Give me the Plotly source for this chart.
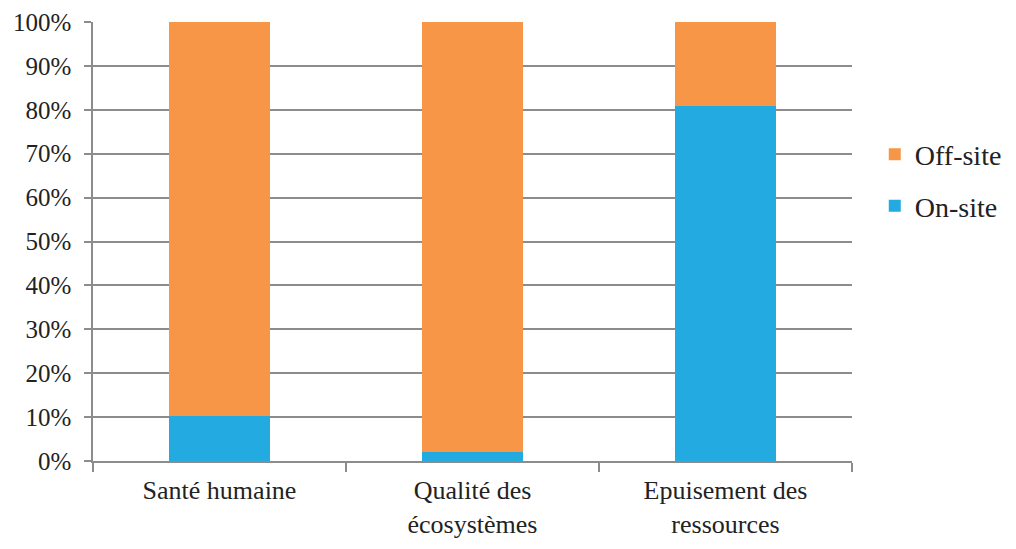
import plotly.graph_objects as go

categories = ["Santé humaine", "Qualité des<br>écosystèmes", "Epuisement des<br>ressources"]
on_site = [10.3, 2.1, 80.8]
off_site = [89.7, 97.9, 19.2]
tick_vals = list(range(0, 101, 10))
tick_text = [f"{v}%" for v in tick_vals]

ORANGE = "#F79646"
BLUE = "#22AAE1"
GRID = "#8C8C8C"
SERIF = "Liberation Serif, Times New Roman, DejaVu Serif, serif"

fig = go.Figure()
fig.add_trace(go.Bar(name="On-site", x=categories, y=on_site, legendgroup="on", legendrank=2,
                     marker=dict(color=BLUE, line=dict(width=0))))
fig.add_trace(go.Bar(name="Off-site", x=categories, y=off_site, legendgroup="off", legendrank=1,
                     marker=dict(color=ORANGE, line=dict(width=0))))

fig.update_layout(
    barmode="stack",
    bargap=0.6,
    width=1000, height=533,
    margin=dict(l=85, r=156, t=14, b=80, autoexpand=False),
    plot_bgcolor="white", paper_bgcolor="white",
    font=dict(family=SERIF, color="#222222", size=24),
    showlegend=True,
    legend=dict(traceorder="grouped", tracegroupgap=12, x=1.03, y=0.64,
                xanchor="left", yanchor="middle",
                font=dict(size=28, family=SERIF), itemwidth=30),
)
fig.update_yaxes(range=[0, 100], tickvals=tick_vals, ticktext=tick_text, automargin=False,
                 showgrid=True, gridcolor=GRID, gridwidth=1.5,
                 showline=True, linecolor=GRID, linewidth=1.5,
                 ticks="outside", ticklen=7, tickcolor=GRID, tickwidth=1.5,
                 ticklabelstandoff=8,
                 tickfont=dict(size=25, family=SERIF), zeroline=False)
fig.update_xaxes(showline=True, linecolor=GRID, linewidth=1.5, automargin=False,
                 ticks="outside", tickson="boundaries", ticklen=9, tickcolor=GRID, tickwidth=1.5,
                 ticklabelstandoff=5,
                 tickfont=dict(size=26, family=SERIF))

fig.write_html("out.html")
